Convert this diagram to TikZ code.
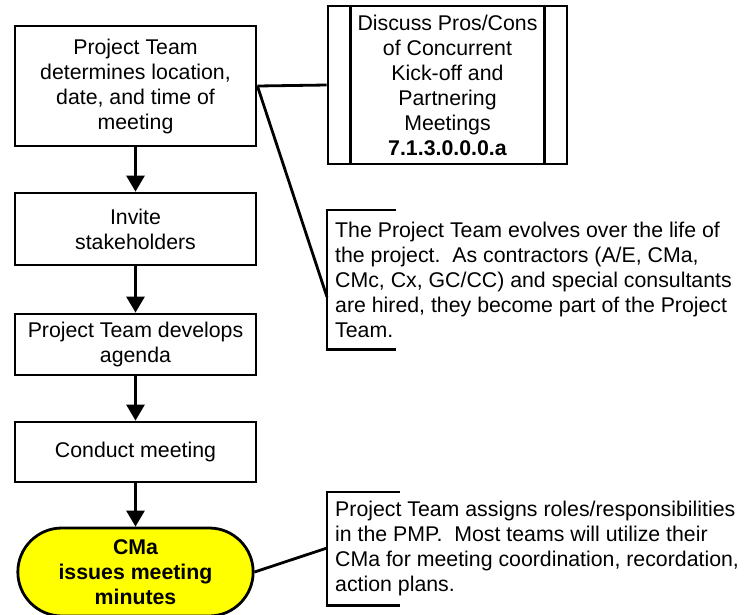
\documentclass[tikz,border=0pt]{standalone}
\usepackage{fontspec}
\setmainfont{Liberation Sans}
\usepackage{xcolor}
\usetikzlibrary{arrows.meta,positioning,calc,shapes.misc}
\definecolor{ink}{HTML}{000000}
\definecolor{endfill}{HTML}{FFFF00}
\newcommand{\fsz}{\fontsize{21.3}{25}\selectfont}
\tikzset{
  proc/.style ={draw=ink, line width=2.8pt, fill=white, align=center, font=\fsz,
                minimum width=241pt, inner sep=3pt},
  sub/.style  ={proc, minimum width=239pt, minimum height=158pt},
  term/.style ={draw=ink, line width=2.8pt, fill=endfill, rounded rectangle,
                align=center, font=\fsz\bfseries, minimum width=242pt, minimum height=88pt},
  note/.style ={align=left, font=\fsz, inner xsep=8pt, inner ysep=3pt, anchor=north west},
  fl/.style   ={draw=ink, line width=2.8pt, -{Triangle[length=16pt,width=18pt]}},
  gl/.style   ={draw=ink, line width=2.8pt},
  brk/.style  ={draw=ink, line width=2.8pt},
}

\begin{document}
\begin{tikzpicture}[x=1pt,y=-1pt]
  \useasboundingbox (0,0) rectangle (744,614);
  \def\cx{135.5}   % main column centre

  % ---------------- main column ------------------------------------------------
  \node[proc, minimum height=120pt] (plan)    at (\cx,86)
        {Project Team\\determines location,\\date, and time of\\meeting};
  \node[proc, minimum height=72pt]  (invite)  at (\cx,229)   {Invite\\stakeholders};
  \node[proc, minimum height=61pt]  (agenda)  at (\cx,344.5) {Project Team develops\\agenda};
  \node[proc, minimum height=60pt]  (conduct) at (\cx,452)   {Conduct meeting};
  \node[term] (minutes) at (\cx,572) {CMa\\issues meeting\\minutes};
  \foreach \u/\v in {plan/invite, invite/agenda, agenda/conduct, conduct/minutes}
    \draw[fl] (\u.south) -- (\v.north);

  % ---------------- sub-process box ---------------------------------------------
  \node[sub] (pros) at (447.5,85)
        {Discuss Pros/Cons\\of Concurrent\\Kick-off and\\Partnering\\Meetings\\\textbf{7.1.3.0.0.0.a}};
  \draw[gl] ($(pros.north west)+(24,0)$) -- ($(pros.south west)+(24,0)$);
  \draw[gl] ($(pros.north east)+(-24,0)$) -- ($(pros.south east)+(-24,0)$);
  \draw[gl] (plan.east) -- (pros.west);

  % ---------------- annotations -------------------------------------------------
  \node[note, minimum height=139pt] (evolve) at (327,210)
        {The Project Team evolves over the life of\\the project.\ \ As contractors (A/E, CMa,\\CMc, Cx, GC/CC) and special consultants\\are hired, they become part of the Project\\Team.};
  \draw[brk] ($(evolve.north west)+(69,0)$) -- (evolve.north west)
        -- (evolve.south west) -- ++(69,0);
  \coordinate (hook1) at (327,297);
  \draw[gl] (plan.east) -- (hook1);

  \node[note, minimum height=113pt] (roles) at (327,492)
        {Project Team assigns roles/responsibilities\\in the PMP.\ \ Most teams will utilize their\\CMa for meeting coordination, recordation,\\action plans.};
  \draw[brk] ($(roles.north west)+(73,0)$) -- (roles.north west)
        -- (roles.south west) -- ++(73,0);
  \coordinate (hook2) at (327,548);
  \draw[gl] (minutes.east) -- (hook2);
\end{tikzpicture}
\end{document}
